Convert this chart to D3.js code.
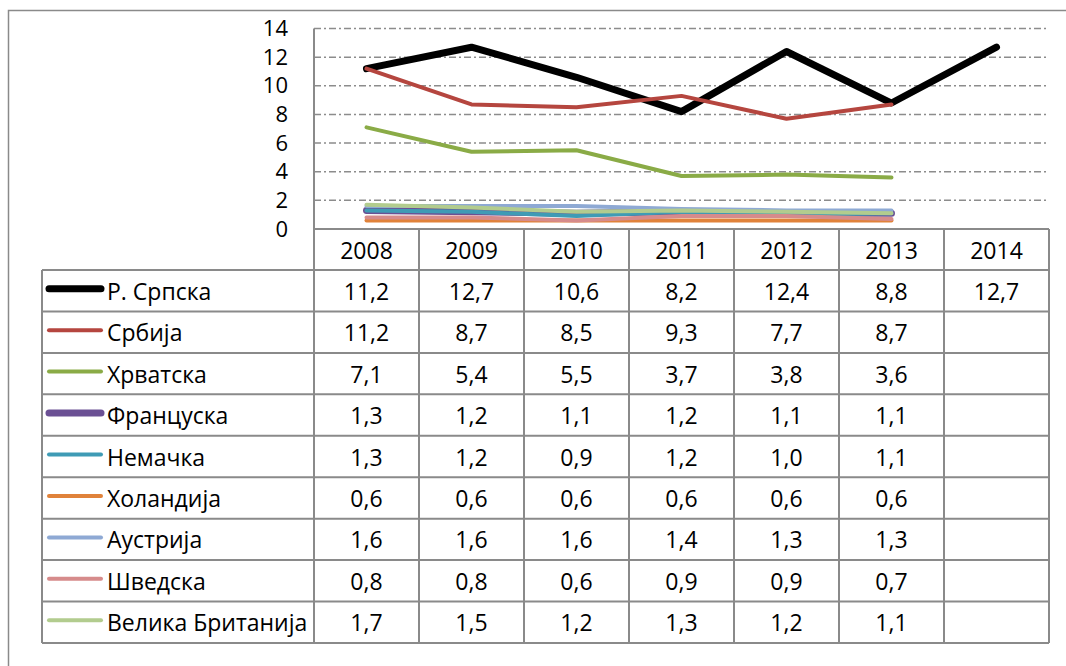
<!DOCTYPE html>
<html>
<head>
<meta charset="utf-8">
<script src="https://cdn.jsdelivr.net/npm/d3@7"></script>
<style>
    body { margin: 0; background: #fff; }
    svg { display: block; }
    text { font-family: "Open Sans", "Noto Sans", sans-serif; fill: #000; }
</style>
</head>
<body>
<svg id="chart"></svg>
<script>
var width = 1066,
    height = 666;

var svg = d3.select("#chart")
    .attr("width", width)
    .attr("height", height);

// tick labels / categories
var years = ["2008", "2009", "2010", "2011", "2012", "2013", "2014"];
var yTicks = [0, 2, 4, 6, 8, 10, 12, 14];

var countries = [
    "Р. Српска",
    "Србија",
    "Хрватска",
    "Француска",
    "Немачка",
    "Холандија",
    "Аустрија",
    "Шведска",
    "Велика Британија"
];

// series values, one array per country
var srpska = [11.2, 12.7, 10.6, 8.2, 12.4, 8.8, 12.7];
var srbija = [11.2, 8.7, 8.5, 9.3, 7.7, 8.7];
var hrvatska = [7.1, 5.4, 5.5, 3.7, 3.8, 3.6];
var francuska = [1.3, 1.2, 1.1, 1.2, 1.1, 1.1];
var nemacka = [1.3, 1.2, 0.9, 1.2, 1.0, 1.1];
var holandija = [0.6, 0.6, 0.6, 0.6, 0.6, 0.6];
var austrija = [1.6, 1.6, 1.6, 1.4, 1.3, 1.3];
var svedska = [0.8, 0.8, 0.6, 0.9, 0.9, 0.7];
var britanija = [1.7, 1.5, 1.2, 1.3, 1.2, 1.1];

var seriesValues = [srpska, srbija, hrvatska, francuska, nemacka, holandija, austrija, svedska, britanija];

var colors = ["#000000", "#b5463f", "#8aab46", "#6b5094", "#3f9bb5", "#e0823a", "#8ea9d4", "#d68b8b", "#b2cc8e"];
var strokeWidths = [7, 4, 4, 7, 4, 4, 4, 4, 4];

var series = countries.map(function(name, i) {
    return { name: name, values: seriesValues[i], color: colors[i], width: strokeWidths[i] };
});

// layout
var plotLeft = 314,
    plotRight = 1049,
    plotTop = 28.6,
    plotBottom = 229,
    headerBottom = 270,
    tableBottom = 643,
    legendLeft = 42;

var borderColor = "#8a8a8a";

var x = d3.scaleBand()
    .domain(years)
    .range([plotLeft, plotRight]);

var y = d3.scaleLinear()
    .domain([0, 14])
    .range([plotBottom, plotTop]);

var rows = d3.scaleBand()
    .domain(countries)
    .range([headerBottom, tableBottom]);

var fmt = function(v) {
    return d3.format(".1f")(v).replace(".", ",");
};

function drawFrame() {
    svg.append("rect")
        .attr("x", 8.5)
        .attr("y", 10.5)
        .attr("width", 1100)
        .attr("height", 700)
        .attr("fill", "none")
        .attr("stroke", borderColor)
        .attr("stroke-width", 1.5);
}

function drawGrid() {
    svg.append("g").selectAll("line")
        .data(yTicks.filter(function(d) { return d > 0; }))
        .enter().append("line")
        .attr("x1", plotLeft)
        .attr("x2", plotRight)
        .attr("y1", function(d) { return y(d); })
        .attr("y2", function(d) { return y(d); })
        .attr("stroke", "#8c8c8c")
        .attr("stroke-width", 1.5)
        .attr("stroke-dasharray", "7,3,2,3");

    var yAxis = d3.axisLeft(y)
        .tickValues(yTicks)
        .tickSize(0)
        .tickPadding(26);

    var ay = svg.append("g")
        .attr("transform", "translate(" + plotLeft + ",0)")
        .call(yAxis);
    ay.select(".domain").remove();
    ay.selectAll("text")
        .style("font-size", "22px")
        .style("font-family", "'Open Sans', 'Noto Sans', sans-serif");
}

function drawLines() {
    var line = d3.line()
        .x(function(d, i) { return x(years[i]) + x.bandwidth() / 2; })
        .y(function(d) { return y(d); });

    svg.append("g").selectAll("path")
        .data(series)
        .enter().append("path")
        .attr("d", function(d) { return line(d.values); })
        .attr("fill", "none")
        .attr("stroke", function(d) { return d.color; })
        .attr("stroke-width", function(d) { return d.width; })
        .attr("stroke-linecap", "round")
        .attr("stroke-linejoin", "round");
}

function drawTable() {
    var g = svg.append("g");

    // header row with years
    g.selectAll("text.year")
        .data(years)
        .enter().append("text")
        .attr("class", "year")
        .attr("x", function(d) { return x(d) + x.bandwidth() / 2; })
        .attr("y", (plotBottom + headerBottom) / 2)
        .attr("text-anchor", "middle")
        .attr("dominant-baseline", "central")
        .style("font-size", "23px")
        .text(function(d) { return d; });

    // legend cells
    var legend = g.selectAll("g.legend")
        .data(series)
        .enter().append("g")
        .attr("class", "legend")
        .attr("transform", function(d) {
            return "translate(0," + (rows(d.name) + rows.bandwidth() / 2) + ")";
        });

    legend.append("line")
        .attr("x1", 49)
        .attr("x2", 101)
        .attr("y1", -2)
        .attr("y2", -2)
        .attr("stroke", function(d) { return d.color; })
        .attr("stroke-width", function(d) { return d.width; })
        .attr("stroke-linecap", "round");

    legend.append("text")
        .attr("x", 107)
        .attr("y", 0)
        .attr("dominant-baseline", "central")
        .style("font-size", "23px")
        .text(function(d) { return d.name; });

    // value cells
    legend.selectAll("text.val")
        .data(function(d) { return d.values; })
        .enter().append("text")
        .attr("class", "val")
        .attr("x", function(d, i) { return x(years[i]) + x.bandwidth() / 2; })
        .attr("y", 0)
        .attr("text-anchor", "middle")
        .attr("dominant-baseline", "central")
        .style("font-size", "23px")
        .text(function(d) { return fmt(d); });

    // borders
    var hLines = [{ y: plotBottom, x1: plotLeft }];
    countries.forEach(function(c) {
        hLines.push({ y: rows(c), x1: legendLeft });
    });
    hLines.push({ y: tableBottom, x1: legendLeft });

    g.selectAll("line.h")
        .data(hLines)
        .enter().append("line")
        .attr("class", "h")
        .attr("x1", function(d) { return d.x1; })
        .attr("x2", plotRight)
        .attr("y1", function(d) { return d.y; })
        .attr("y2", function(d) { return d.y; })
        .attr("stroke", borderColor)
        .attr("stroke-width", 2);

    var vLines = years.map(function(d) { return x(d); }).concat([plotRight]);

    g.selectAll("line.v")
        .data(vLines)
        .enter().append("line")
        .attr("class", "v")
        .attr("x1", function(d) { return d; })
        .attr("x2", function(d) { return d; })
        .attr("y1", function(d, i) { return i == 0 ? plotTop : plotBottom; })
        .attr("y2", tableBottom)
        .attr("stroke", borderColor)
        .attr("stroke-width", 2);

    g.append("line")
        .attr("x1", legendLeft)
        .attr("x2", legendLeft)
        .attr("y1", headerBottom)
        .attr("y2", tableBottom)
        .attr("stroke", borderColor)
        .attr("stroke-width", 2);
}

drawFrame();
drawGrid();
drawLines();
drawTable();
</script>
</body>
</html>
